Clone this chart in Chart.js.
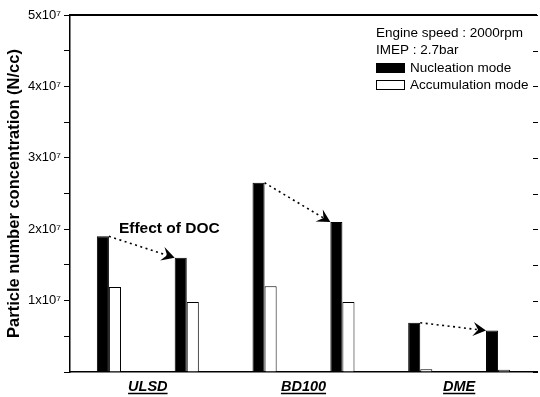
<!DOCTYPE html>
<html>
<head>
<meta charset="utf-8">
<script src="https://cdn.jsdelivr.net/npm/chart.js@4.4.0/dist/chart.umd.min.js"></script>
<style>
  html, body { margin: 0; padding: 0; background: #fff; }
  #wrap { width: 540px; height: 397px; }
</style>
</head>
<body>
<div id="wrap"><canvas id="c"></canvas></div>
<script>
const fuels = ['ULSD', 'BD100', 'DME'];
const slots = ['ULSD w/o DOC', 'ULSD w/ DOC', 'BD100 w/o DOC', 'BD100 w/ DOC', 'DME w/o DOC', 'DME w/ DOC'];
const nucleation = [1.9e7, 1.6e7, 2.65e7, 2.1e7, 0.69e7, 0.58e7];
const accumulation = [1.19e7, 0.98e7, 1.2e7, 0.98e7, 0.04e7, 0.03e7];
const notes = ['Engine speed : 2000rpm', 'IMEP : 2.7bar'];
const arrowPairs = [[0, 1], [2, 3], [4, 5]];

const FONT = "'Liberation Sans', Arial, sans-serif";

function drawArrow(ctx, x1, y1, x2, y2) {
    ctx.save();
    ctx.strokeStyle = '#000';
    ctx.lineWidth = 1.6;
    ctx.setLineDash([2, 3.5]);
    const ang = Math.atan2(y2 - y1, x2 - x1);
    const ex = x2 - Math.cos(ang) * 7, ey = y2 - Math.sin(ang) * 7;
    ctx.beginPath();
    ctx.moveTo(x1, y1);
    ctx.lineTo(ex, ey);
    ctx.stroke();
    ctx.setLineDash([]);
    // stealth head
    ctx.translate(x2, y2);
    ctx.rotate(ang);
    ctx.fillStyle = '#000';
    ctx.beginPath();
    ctx.moveTo(0, 0);
    ctx.lineTo(-13, -7);
    ctx.lineTo(-8, 0);
    ctx.lineTo(-13, 7);
    ctx.closePath();
    ctx.fill();
    ctx.restore();
}

const decor = {
    id: 'decor',
    afterDraw(chart) {
        const ctx = chart.ctx;
        const area = chart.chartArea;
        const y = chart.scales.y;
        ctx.save();
        // top frame
        ctx.strokeStyle = '#000';
        ctx.lineWidth = 2;
        ctx.beginPath();
        ctx.moveTo(area.left, area.top);
        ctx.lineTo(area.right, area.top);
        ctx.stroke();
        // inward ticks on the right side
        ctx.lineWidth = 1;
        ctx.beginPath();
        y.ticks.forEach(t => {
            const py = Math.round(y.getPixelForValue(t.value)) + 0.5;
            ctx.moveTo(area.right + 1, py);
            ctx.lineTo(area.right - 4, py);
        });
        ctx.stroke();

        // arrows between black bars
        const meta = chart.getDatasetMeta(0);
        arrowPairs.forEach(([a, b]) => {
            const ba = meta.data[a], bb = meta.data[b];
            drawArrow(ctx, ba.x + ba.width / 2, ba.y, bb.x - bb.width / 2, bb.y);
        });

        // annotation
        const first = meta.data[0];
        ctx.fillStyle = '#000';
        ctx.font = 'bold 15.5px ' + FONT;
        ctx.textAlign = 'left';
        ctx.textBaseline = 'middle';
        ctx.fillText('Effect of DOC', first.x + first.width / 2 + 10, y.getPixelForValue(2.0e7));

        // legend block
        const lx = area.right - 161;
        ctx.font = '13.5px ' + FONT;
        ctx.fillText(notes[0], lx, area.top + 18);
        ctx.fillText(notes[1], lx, area.top + 35.5);
        const ds = chart.data.datasets;
        [0, 1].forEach(i => {
            const cy = area.top + 53 + i * 17;
            ctx.fillStyle = ds[i].backgroundColor;
            ctx.strokeStyle = '#000';
            ctx.lineWidth = 1;
            ctx.fillRect(lx, cy - 5, 29, 10);
            ctx.strokeRect(lx + 0.5, cy - 4.5, 28, 9);
            ctx.fillStyle = '#000';
            ctx.fillText(ds[i].label, lx + 34, cy);
        });

        // underline group labels
        const x2 = chart.scales.x2;
        ctx.font = 'bold italic 14.5px ' + FONT;
        ctx.lineWidth = 1.3;
        x2.ticks.forEach((t, i) => {
            const cx = x2.getPixelForTick(i);
            const w = ctx.measureText(fuels[i]).width;
            const uy = area.bottom + 21.5;
            ctx.beginPath();
            ctx.moveTo(cx - w / 2, uy);
            ctx.lineTo(cx + w / 2, uy);
            ctx.stroke();
        });
        ctx.restore();
    }
};

new Chart(document.getElementById('c'), {
    type: 'bar',
    data: {
        labels: slots,
        datasets: [
            {
                label: 'Nucleation mode',
                data: nucleation,
                backgroundColor: '#000',
                borderColor: '#000',
                borderWidth: 1,
                barPercentage: 1,
                categoryPercentage: 0.31
            },
            {
                label: 'Accumulation mode',
                data: accumulation,
                backgroundColor: '#fff',
                borderColor: '#000',
                borderWidth: 1,
                barPercentage: 1,
                categoryPercentage: 0.31
            }
        ]
    },
    options: {
        responsive: true,
        maintainAspectRatio: false,
        animation: false,
        devicePixelRatio: 1,
        layout: { padding: { top: 15, right: 3, left: 0, bottom: 0 } },
        plugins: {
            legend: { display: false },
            tooltip: { enabled: false }
        },
        scales: {
            x: {
                type: 'category',
                offset: true,
                grid: { display: false },
                ticks: { display: false },
                border: { color: '#000', width: 1.5 },
                afterFit: s => { s.height = 0; }
            },
            x2: {
                type: 'category',
                labels: fuels,
                position: 'bottom',
                offset: true,
                grid: { display: false },
                border: { display: false },
                ticks: {
                    color: '#000',
                    padding: -2,
                    font: { family: FONT, size: 14.5, weight: 'bold', style: 'italic' }
                },
                afterFit: s => { s.height = 25; }
            },
            y: {
                min: 0,
                max: 5e7,
                ticks: {
                    stepSize: 0.5e7,
                    autoSkip: false,
                    color: '#000',
                    padding: 3,
                    font: { family: FONT, size: 13 },
                    callback: v => {
                        const n = v / 1e7;
                        return (n > 0 && Math.abs(n - Math.round(n)) < 1e-6) ? Math.round(n) + 'x10\u2077' : '';
                    }
                },
                grid: { drawOnChartArea: false, tickLength: 6, color: '#000' },
                border: { color: '#000', width: 1.5 },
                title: {
                    display: true,
                    text: 'Particle number concentration (N/cc)',
                    color: '#000',
                    padding: { top: 5, bottom: 0 },
                    font: { family: FONT, size: 16.5, weight: 'bold' }
                },
                afterFit: s => { s.width = 70; }
            }
        }
    },
    plugins: [decor]
});
</script>
</body>
</html>
